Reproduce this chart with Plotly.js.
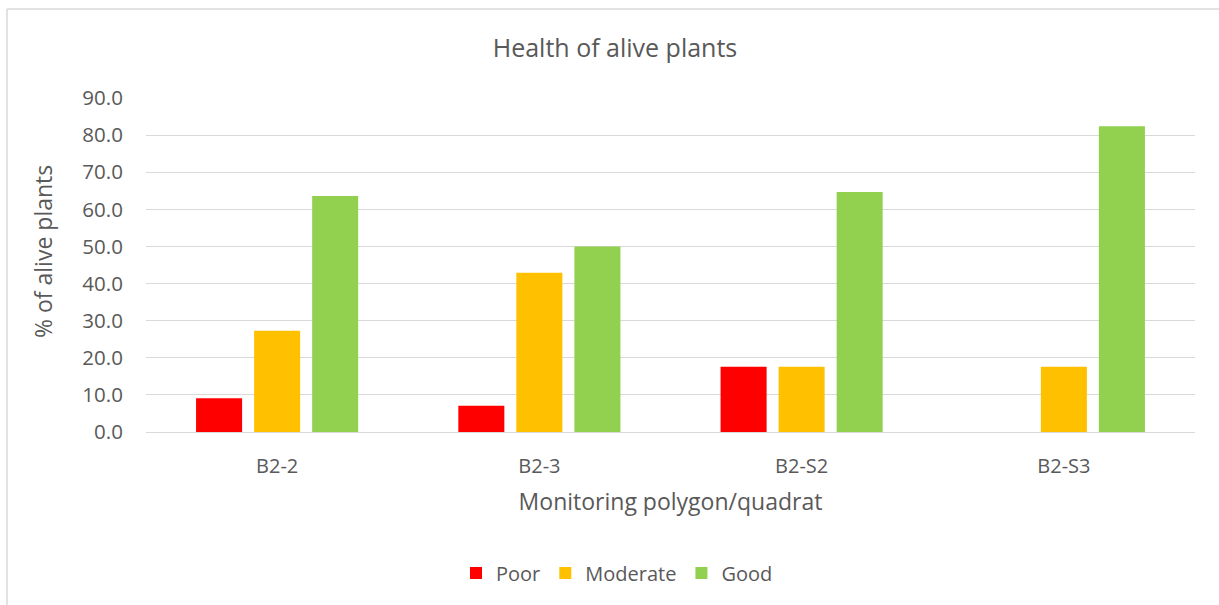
<!DOCTYPE html>
<html>
<head>
<meta charset="utf-8">
<script src="https://cdn.plot.ly/plotly-3.0.1.min.js"></script>
<style>
  html, body { margin: 0; padding: 0; background: #ffffff; }
  #chart { width: 1219px; height: 605px; }
</style>
</head>
<body>
<div id="chart"></div>
<script>
const categories = ["B2-2", "B2-3", "B2-S2", "B2-S3"];
const poor = [9.1, 7.1, 17.6, 0];
const moderate = [27.3, 42.9, 17.6, 17.6];
const good = [63.6, 50.0, 64.7, 82.4];
const yTicks = [0, 10, 20, 30, 40, 50, 60, 70, 80, 90];

const FONT = "Open Sans, sans-serif";
const TXT = "#595959";

const traces = [
  {name: "Poor", y: poor, color: "#FF0000"},
  {name: "Moderate", y: moderate, color: "#FFC000"},
  {name: "Good", y: good, color: "#92D050"}
].map(s => ({
  type: "bar",
  x: categories,
  y: s.y,
  name: s.name,
  marker: {color: s.color},
  hoverinfo: "x+y+name"
}));

const L = 146, R = 24, T = 98, B = 173;
const W = 1219, H = 605;
const pw = W - L - R, ph = H - T - B;
const px = v => (v - L) / pw;
const py = v => (H - B - v) / ph;

const layout = {
  width: W, height: H,
  margin: {l: L, r: R, t: T, b: B, pad: 0},
  paper_bgcolor: "#ffffff",
  plot_bgcolor: "#ffffff",
  font: {family: FONT, color: TXT, size: 20},
  title: {
    text: "Health of alive plants",
    font: {family: FONT, size: 25, color: TXT},
    x: 615 / W, xanchor: "center", xref: "container",
    y: 1 - 48 / H, yanchor: "middle", yref: "container"
  },
  barmode: "group",
  bargap: 0.336,
  bargroupgap: 0.207,
  xaxis: {
    type: "category",
    showgrid: false,
    showline: false,
    ticks: "outside",
    ticklen: 16,
    tickcolor: "rgba(0,0,0,0)",
    tickfont: {family: FONT, size: 20, color: TXT},
    title: {text: "Monitoring polygon/quadrat", font: {family: FONT, size: 23, color: TXT}, standoff: 15},
    automargin: false
  },
  yaxis: {
    range: [0, 90],
    tickvals: yTicks,
    ticktext: yTicks.map(v => v.toFixed(1)),
    showgrid: true,
    gridcolor: "#d9d9d9",
    gridwidth: 1.4,
    zeroline: true,
    zerolinecolor: "#d9d9d9",
    zerolinewidth: 1.4,
    showline: false,
    ticks: "outside",
    ticklen: 18,
    tickcolor: "rgba(0,0,0,0)",
    tickfont: {family: FONT, size: 20.5, color: TXT},
    automargin: false,
    fixedrange: true
  },
  legend: {
    orientation: "h",
    x: px(617), xanchor: "center",
    y: py(573), yanchor: "middle",
    font: {family: FONT, size: 20, color: TXT},
    itemwidth: 30,
    traceorder: "normal"
  },
  annotations: [
    {text: "% of alive plants", xref: "paper", yref: "paper", x: px(43), y: py(251),
     xanchor: "center", yanchor: "middle", textangle: -90, showarrow: false,
     font: {family: FONT, size: 23, color: TXT}}
  ],
  shapes: [
    {type: "line", xref: "paper", yref: "paper", x0: px(7), x1: px(1219), y0: py(9), y1: py(9),
     line: {color: "#d9d9d9", width: 1.5}},
    {type: "line", xref: "paper", yref: "paper", x0: px(7), x1: px(7), y0: py(9), y1: py(605),
     line: {color: "#d9d9d9", width: 1.5}}
  ]
};

Plotly.newPlot("chart", traces, layout, {displayModeBar: false});
</script>
</body>
</html>
